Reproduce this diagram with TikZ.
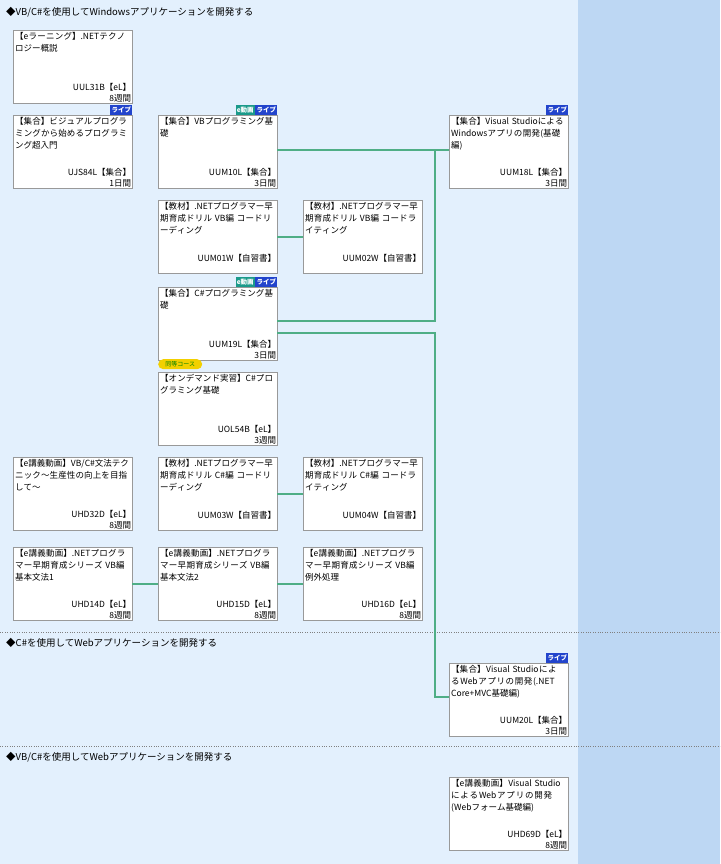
\documentclass[tikz,border=0pt]{standalone}
\usepackage{fontspec}
\setmainfont{Noto Sans CJK JP}
\XeTeXlinebreaklocale "ja"
\XeTeXlinebreakskip=0pt plus 1pt
\usetikzlibrary{positioning}
\definecolor{panel}{HTML}{E3F0FD}
\definecolor{side}{HTML}{BDD7F3}
\definecolor{linkgreen}{HTML}{4FAE86}
\definecolor{livebl}{HTML}{2244CC}
\definecolor{moviet}{HTML}{1A9A8A}
\definecolor{eqyel}{HTML}{F2D000}
\tikzset{
    course/.style={rectangle, draw=gray!80, fill=white, minimum width=119pt, minimum height=73pt, anchor=north west, inner sep=0pt},
    title/.style={anchor=north west, text width=114pt, inner sep=2pt, font=\fontsize{8.5}{12}\selectfont, align=left},
    code/.style={anchor=south east, inner sep=1pt, font=\fontsize{8.5}{11}\selectfont, align=right},
    badge/.style={anchor=south east, inner sep=1.2pt, font=\fontsize{6.5}{7}\selectfont\bfseries, text=white, minimum height=10pt},
    link/.style={draw=linkgreen, line width=1.3pt},
    sect/.style={anchor=west, inner sep=0pt, font=\fontsize{9.5}{11}\selectfont},
}
\newcommand{\course}[6]{%
  \node[course] (#1) at (#2,#3) {};
  \node[title] at (#1.north west) {\hyphenpenalty=10000 #4};
  \node[code] at (#1.south east) {#5\\#6};
}
\begin{document}
\begin{tikzpicture}[x=1pt,y=-1pt]
  \useasboundingbox (0,0) rectangle (720,864);
  \fill[panel] (0,0) rectangle (578,864);
  \fill[side] (578,0) rectangle (720,864);
  \draw[gray, dotted] (0,632) -- (720,632);
  \draw[gray, dotted] (0,746) -- (720,746);

  \node[sect] (s1) at (6,12) {◆VB/C\#を使用してWindowsアプリケーションを開発する};
  \node[sect] (s2) at (6,643) {◆C\#を使用してWebアプリケーションを開発する};
  \node[sect] (s3) at (6,757) {◆VB/C\#を使用してWebアプリケーションを開発する};

  \course{uul31b}{13}{30}{【eラーニング】.NETテクノロジー概説}{UUL31B【eL】}{8週間}
  \course{ujs84l}{13}{115}{【集合】ビジュアルプログラミングから始めるプログラミング超入門}{UJS84L【集合】}{1日間}
  \course{uum10l}{158}{115}{【集合】VBプログラミング基礎}{UUM10L【集合】}{3日間}
  \course{uum18l}{449}{115}{【集合】Visual StudioによるWindowsアプリの開発(基礎編)}{UUM18L【集合】}{3日間}
  \course{uum01w}{158}{200}{【教材】.NETプログラマー早期育成ドリル VB編 コードリーディング}{UUM01W【自習書】}{}
  \course{uum02w}{303}{200}{【教材】.NETプログラマー早期育成ドリル VB編 コードライティング}{UUM02W【自習書】}{}
  \course{uum19l}{158}{287}{【集合】C\#プログラミング基礎}{UUM19L【集合】}{3日間}
  \course{uol54b}{158}{372}{【オンデマンド実習】C\#プログラミング基礎}{UOL54B【eL】}{3週間}
  \course{uhd32d}{13}{457}{【e講義動画】VB/C\#文法テクニック～生産性の向上を目指して～}{UHD32D【eL】}{8週間}
  \course{uum03w}{158}{457}{【教材】.NETプログラマー早期育成ドリル C\#編 コードリーディング}{UUM03W【自習書】}{}
  \course{uum04w}{303}{457}{【教材】.NETプログラマー早期育成ドリル C\#編 コードライティング}{UUM04W【自習書】}{}
  \course{uhd14d}{13}{547}{【e講義動画】.NETプログラマー早期育成シリーズ VB編 基本文法1}{UHD14D【eL】}{8週間}
  \course{uhd15d}{158}{547}{【e講義動画】.NETプログラマー早期育成シリーズ VB編 基本文法2}{UHD15D【eL】}{8週間}
  \course{uhd16d}{303}{547}{【e講義動画】.NETプログラマー早期育成シリーズ VB編 例外処理}{UHD16D【eL】}{8週間}
  \course{uum20l}{449}{663}{【集合】Visual StudioによるWebアプリの開発(.NET Core+MVC基礎編)}{UUM20L【集合】}{3日間}
  \course{uhd69d}{449}{777}{【e講義動画】Visual StudioによるWebアプリの開発(Webフォーム基礎編)}{UHD69D【eL】}{8週間}

  % badges
  \node[badge, fill=livebl] (b1) at (ujs84l.north east) {ライブ};
  \node[badge, fill=livebl] (b2) at (uum10l.north east) {ライブ};
  \node[badge, fill=moviet, left=0pt of b2] {e動画};
  \node[badge, fill=livebl] (b3) at (uum18l.north east) {ライブ};
  \node[badge, fill=livebl] (b4) at (uum19l.north east) {ライブ};
  \node[badge, fill=moviet, left=0pt of b4] {e動画};
  \node[badge, fill=livebl] (b5) at (uum20l.north east) {ライブ};
  \node[badge, fill=eqyel, text=green!50!black, rounded corners=5pt, anchor=north west, minimum width=44pt, font=\fontsize{6}{7}\selectfont] (eq) at (158,359) {同等コース};

  % connectors
  \coordinate (j1) at (435,150);
  \coordinate (j2) at (435,321);
  \coordinate (j3) at (435,333);
  \coordinate (j4) at (435,697);
  \draw[link] (uum10l.east |- j1) -- (j1) -- (uum18l.west |- j1);
  \draw[link] (uum19l.east |- j2) -- (j2) -- (j1);
  \draw[link] (uum19l.east |- j3) -- (j3) -- (j4) -- (uum20l.west |- j4);
  \draw[link, line width=1.6pt] (uum01w.east) -- (uum02w.west);
  \draw[link, line width=1.6pt] (uum03w.east) -- (uum04w.west);
  \draw[link, line width=1.6pt] (uhd14d.east) -- (uhd15d.west);
  \draw[link, line width=1.6pt] (uhd15d.east) -- (uhd16d.west);
\end{tikzpicture}
\end{document}
